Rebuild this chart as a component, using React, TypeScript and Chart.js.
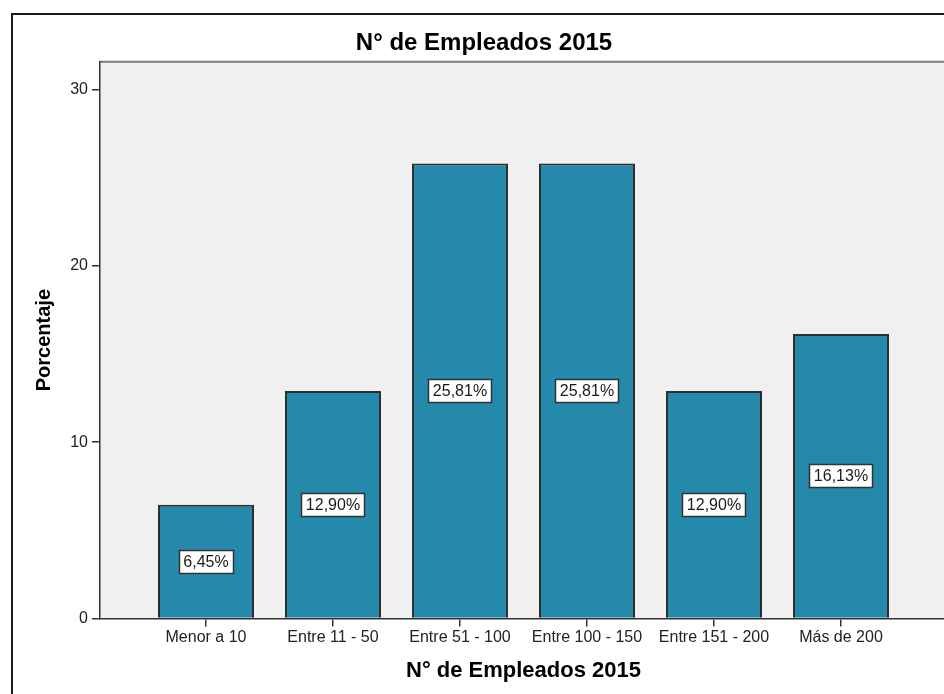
import React, { useEffect, useRef } from "react";
import { Chart, registerables } from "chart.js";

Chart.register(...registerables);

const categories = [
  "Menor a 10",
  "Entre 11 - 50",
  "Entre 51 - 100",
  "Entre 100 - 150",
  "Entre 151 - 200",
  "Más de 200",
];
const percentages = [6.45, 12.9, 25.81, 25.81, 12.9, 16.13];
const valueLabels = ["6,45%", "12,90%", "25,81%", "25,81%", "12,90%", "16,13%"];
const yTickValues = [0, 10, 20, 30];
const chartTitle = "N° de Empleados 2015";
const xTitle = "N° de Empleados 2015";
const yTitle = "Porcentaje";

const FONT = "'Liberation Sans', Arial, sans-serif";

const plotBackground = {
  id: "plotBackground",
  beforeDraw(chart: any) {
    const { ctx, chartArea } = chart;
    ctx.save();
    ctx.fillStyle = "#f0f0f0";
    ctx.fillRect(chartArea.left, chartArea.top, chartArea.right - chartArea.left, chartArea.bottom - chartArea.top);
    ctx.strokeStyle = "#7a7a7a";
    ctx.lineWidth = 2;
    ctx.beginPath();
    ctx.moveTo(chartArea.left, chartArea.top);
    ctx.lineTo(chartArea.right, chartArea.top);
    ctx.stroke();
    ctx.restore();
  },
};

const barValueBoxes = {
  id: "barValueBoxes",
  afterDatasetsDraw(chart: any) {
    const { ctx } = chart;
    const meta = chart.getDatasetMeta(0);
    ctx.save();
    ctx.font = `16px ${FONT}`;
    ctx.textAlign = "center";
    ctx.textBaseline = "middle";
    meta.data.forEach((bar: any, i: number) => {
      const text = valueLabels[i];
      const cx = bar.x;
      const cy = (bar.y + bar.base) / 2;
      const w = ctx.measureText(text).width + 9;
      const h = 23;
      const x0 = Math.round(cx - w / 2) + 0.5;
      const y0 = Math.round(cy - h / 2) + 0.5;
      ctx.fillStyle = "#ffffff";
      ctx.fillRect(x0, y0, Math.round(w), h);
      ctx.strokeStyle = "#333333";
      ctx.lineWidth = 1.5;
      ctx.strokeRect(x0, y0, Math.round(w), h);
      ctx.fillStyle = "#1a1a1a";
      ctx.fillText(text, cx, cy + 1);
    });
    ctx.restore();
  },
};

export default function App() {
  const canvasRef = useRef<HTMLCanvasElement | null>(null);

  useEffect(() => {
    if (!canvasRef.current) return;
    const chart = new Chart(canvasRef.current, {
      type: "bar",
      data: {
        datasets: [
          {
            data: percentages.map((v, i) => ({ x: i, y: v })),
            backgroundColor: "#2589ab",
            borderColor: "#2e2e2e",
            borderWidth: 2,
            barPercentage: 0.756,
            categoryPercentage: 1,
          },
        ],
      },
      options: {
        responsive: false,
        animation: false,
        devicePixelRatio: 1,
        layout: { padding: { left: 21, right: 13, top: 0, bottom: 12 } },
        plugins: {
          legend: { display: false },
          tooltip: { enabled: false },
          title: {
            display: true,
            text: chartTitle,
            color: "#000",
            font: { family: FONT, size: 24, weight: "bold" },
            padding: { top: 29, bottom: 4 },
          },
        },
        scales: {
          x: {
            type: "linear",
            min: -0.8346,
            max: 5.8346,
            bounds: "data",
            offset: false,
            afterBuildTicks: (scale: any) => {
              scale.ticks = categories.map((_, i) => ({ value: i }));
            },
            ticks: {
              autoSkip: false,
              maxRotation: 0,
              padding: 2,
              color: "#222",
              font: { family: FONT, size: 16 },
              callback: (v: any) => categories[Math.round(Number(v))] ?? "",
            },
            grid: { offset: false, drawOnChartArea: false, drawTicks: true, tickLength: 8, color: "#333", lineWidth: 1.5 },
            border: { display: true, color: "#333", width: 1.5 },
            title: {
              display: true,
              text: xTitle,
              color: "#000",
              font: { family: FONT, size: 22, weight: "bold" },
              padding: { top: 8, bottom: 4 },
            },
          },
          y: {
            type: "linear",
            min: 0,
            max: 31.58,
            bounds: "data",
            afterBuildTicks: (scale: any) => {
              scale.ticks = yTickValues.map((v) => ({ value: v }));
            },
            afterFit: (scale: any) => {
              scale.width = 79;
            },
            ticks: {
              padding: 4,
              color: "#222",
              font: { family: FONT, size: 16 },
            },
            grid: { drawOnChartArea: false, drawTicks: true, tickLength: 8, color: "#333", lineWidth: 1.5 },
            border: { display: true, color: "#333", width: 1.5 },
            title: {
              display: true,
              text: yTitle,
              color: "#000",
              font: { family: FONT, size: 20, weight: "bold" },
              padding: { top: 11, bottom: 4 },
            },
          },
        },
      } as any,
      plugins: [plotBackground, barValueBoxes],
    });
    return () => chart.destroy();
  }, []);

  return (
    <div
      style={{
        position: "fixed",
        left: 0,
        top: 0,
        width: 944,
        height: 694,
        overflow: "hidden",
        background: "#ffffff",
      }}
    >
      <div
        style={{
          position: "absolute",
          left: 11,
          top: 13,
          width: 1000,
          height: 1000,
          border: "2px solid #1a1a1a",
          boxSizing: "border-box",
        }}
      />
      <canvas
        ref={canvasRef}
        width={960}
        height={700}
        style={{ position: "absolute", left: 0, top: 0, width: 960, height: 700 }}
      />
    </div>
  );
}
